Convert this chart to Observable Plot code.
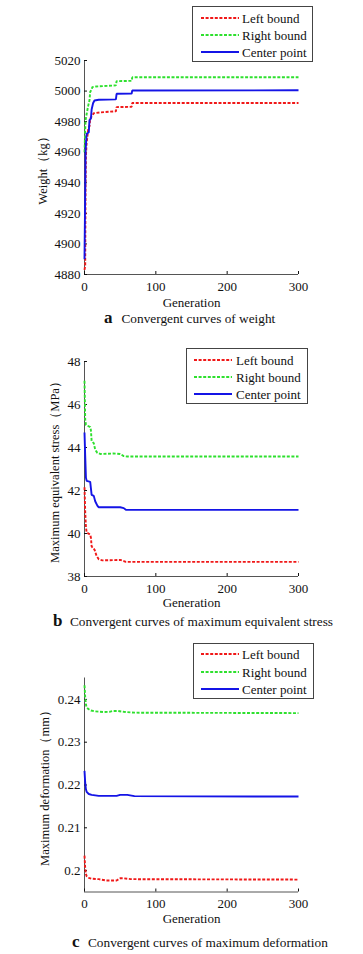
<!DOCTYPE html>
<html>
<head>
<meta charset="utf-8">
<script src="https://cdn.jsdelivr.net/npm/d3@7"></script>
<script src="https://cdn.jsdelivr.net/npm/@observablehq/plot@0.6"></script>
<style>
  body { margin: 0; background: white; }
  #wrap { position: relative; width: 363px; height: 954px; background: white; font-family: "Liberation Serif", "Times New Roman", serif; color: #111; }
  .abs { position: absolute; }
  .cap { position: absolute; font-size: 13.3px; line-height: 18px; white-space: nowrap; }
  .capL { position: absolute; font-size: 17px; font-weight: bold; line-height: 18px; }
</style>
</head>
<body>
<div id="wrap"></div>
<script>
// ---------- data ----------
const seriesNames = ["Left bound", "Right bound", "Center point"];
const xTicks = [0, 100, 200, 300];

// (a) weight
const weightLeftGen  = [0, 1, 1.5, 2, 3, 4, 5.5, 7, 8, 11, 13, 21, 44, 45, 66, 67, 300];
const weightLeft     = [4883, 4886, 4940, 4958, 4966, 4970, 4976, 4977, 4982, 4984, 4985.5, 4986, 4986.8, 4989.5, 4989.7, 4992.2, 4992.2];
const weightRightGen = [0, 1, 1.5, 3, 5, 7, 8, 10, 11, 16, 44, 45, 66, 67, 300];
const weightRight    = [4960, 4975, 4981, 4985, 4990, 4994, 4999.5, 5001, 5002.6, 5003, 5003.7, 5006.5, 5006.7, 5009, 5009];
const weightCenterGen = [0, 1, 1.5, 3, 6, 7, 9, 10, 12, 14, 20, 44, 45, 66, 67, 300];
const weightCenter    = [4890, 4935, 4961, 4972, 4973, 4981, 4982, 4988, 4992, 4993.8, 4994.3, 4994.6, 4998.2, 4998.3, 5000.4, 5000.5];
const weightTicks = [4880, 4900, 4920, 4940, 4960, 4980, 5000, 5020];

// (b) maximum equivalent stress
const stressLeftGen  = [0, 1, 2, 3, 8, 9, 10, 14, 17, 20, 25, 50, 55, 58, 300];
const stressLeft     = [42.15, 41.0, 40.3, 40.05, 39.95, 39.8, 39.4, 39.25, 38.95, 38.8, 38.75, 38.77, 38.72, 38.68, 38.68];
const stressRightGen = [0, 1, 2, 8, 9, 10, 13, 15, 18, 22, 40, 50, 55, 60, 300];
const stressRight    = [47.1, 45.3, 45.05, 44.95, 44.8, 44.3, 44.2, 43.9, 43.75, 43.7, 43.72, 43.7, 43.6, 43.58, 43.58];
const stressCenterGen = [0, 1, 2, 3, 8, 9, 10, 13, 15, 18, 20, 50, 55, 58, 300];
const stressCenter    = [44.7, 43.6, 42.6, 42.45, 42.4, 42.1, 41.8, 41.75, 41.5, 41.3, 41.22, 41.22, 41.18, 41.1, 41.1];
const stressTicks = [38, 40, 42, 44, 46, 48];

// (c) maximum deformation
const deformLeftGen  = [0, 1, 2, 3, 6, 10, 20, 30, 45, 50, 55, 65, 300];
const deformLeft     = [0.2035, 0.2005, 0.1992, 0.1987, 0.1983, 0.1981, 0.1980, 0.1977, 0.1977, 0.1982, 0.1982, 0.1980, 0.1979];
const deformRightGen = [0, 1, 2, 3, 6, 9, 15, 26, 35, 40, 47, 55, 70, 300];
const deformRight    = [0.2433, 0.2405, 0.2388, 0.2381, 0.2377, 0.2374, 0.2372, 0.23705, 0.2371, 0.2373, 0.2373, 0.2371, 0.2369, 0.2368];
const deformCenterGen = [0, 1, 2, 3, 6, 10, 20, 45, 50, 60, 70, 300];
const deformCenter    = [0.2233, 0.2205, 0.2190, 0.2184, 0.2179, 0.2177, 0.21745, 0.21745, 0.2177, 0.2177, 0.2174, 0.2173];
const deformTicks = [0.2, 0.21, 0.22, 0.23, 0.24];

// ---------- styles ----------
const colors = ["#f01818", "#2ee02e", "#1414e6"];
const dashes = ["3,1.6", "3,1.6", null];

const wrap = document.getElementById("wrap");
const pts = (g, v) => g.map((x, i) => ({g: x, v: v[i]}));

function panel(cfg) {
  const marks = [
    Plot.ruleX([0], {stroke: "#555", strokeWidth: 1}),
    Plot.ruleY([cfg.domain[0]], {stroke: "#555", strokeWidth: 1}),
    Plot.axisY({ticks: cfg.ticks, tickFormat: d => String(d), tickSize: -3, tickPadding: 7, label: null, anchor: "left"}),
    Plot.axisX({ticks: xTicks, tickFormat: d => String(d), tickSize: -3, tickPadding: 10, label: null, anchor: "bottom"})
  ];
  cfg.series.forEach((s, i) => {
    marks.push(Plot.line(pts(s[0], s[1]), {
      x: "g", y: "v", stroke: colors[i], strokeWidth: 1.9,
      strokeDasharray: dashes[i], strokeLinecap: "butt", strokeLinejoin: "miter", curve: "linear"
    }));
  });
  marks.push(Plot.text([cfg.ylabel], {text: d => d, frameAnchor: "left", rotate: -90, dx: cfg.ylabelDx, textAnchor: "middle", lineAnchor: "middle", fill: "#111", fontSize: 12.5}));
  marks.push(Plot.text(["Generation"], {text: d => d, frameAnchor: "bottom", dy: cfg.xlabelDy, textAnchor: "middle", lineAnchor: "middle", fill: "#111"}));

  const chart = Plot.plot({
    width: 363, height: cfg.height,
    marginLeft: 84, marginRight: 65, marginTop: cfg.marginTop, marginBottom: cfg.marginBottom,
    x: {domain: [0, 300]},
    y: {domain: cfg.domain},
    style: {fontFamily: "'Liberation Serif', 'Times New Roman', serif", fontSize: "13px", background: "white", color: "#111", overflow: "visible"},
    marks
  });
  chart.style.position = "absolute";
  chart.style.left = "0px";
  chart.style.top = cfg.top + "px";
  wrap.appendChild(chart);
}

function legend(cfg) {
  const svg = d3.select(wrap).append("svg")
    .attr("class", "abs")
    .attr("width", cfg.w).attr("height", cfg.h)
    .style("left", cfg.left + "px").style("top", cfg.top + "px");
  svg.append("rect").attr("x", 0.5).attr("y", 0.5).attr("width", cfg.w - 1).attr("height", cfg.h - 1)
    .attr("fill", "white").attr("stroke", "#444").attr("stroke-width", 1);
  seriesNames.forEach((name, i) => {
    const y = cfg.rows[i];
    svg.append("line").attr("x1", cfg.lx1).attr("x2", cfg.lx2).attr("y1", y).attr("y2", y)
      .attr("stroke", colors[i]).attr("stroke-width", 1.9)
      .attr("stroke-dasharray", dashes[i]);
    svg.append("text").attr("x", cfg.tx).attr("y", y).attr("dy", "0.35em")
      .style("font-family", "'Liberation Serif', 'Times New Roman', serif").style("font-size", "13px")
      .attr("fill", "#111").text(name);
  });
}

function caption(letter, text, lx, tx, cy) {
  const l = document.createElement("div");
  l.className = "capL"; l.style.left = lx + "px"; l.style.top = (cy - 10) + "px"; l.textContent = letter;
  const t = document.createElement("div");
  t.className = "cap"; t.style.left = tx + "px"; t.style.top = (cy - 9) + "px"; t.textContent = text;
  wrap.appendChild(l); wrap.appendChild(t);
}

// panel a
panel({
  top: 0, height: 310, marginTop: 60, marginBottom: 36,
  domain: [4880, 5020], ticks: weightTicks,
  series: [[weightLeftGen, weightLeft], [weightRightGen, weightRight], [weightCenterGen, weightCenter]],
  ylabel: "Weight（kg）", ylabelDx: -42, xlabelDy: 28.7
});
legend({left: 192, top: 6, w: 121, h: 56, rows: [12, 29, 46], lx1: 9, lx2: 47, tx: 50});
caption("a", "Convergent curves of weight", 104, 121.5, 319);

// panel b
panel({
  top: 330, height: 285, marginTop: 31, marginBottom: 39,
  domain: [38, 48], ticks: stressTicks,
  series: [[stressLeftGen, stressLeft], [stressRightGen, stressRight], [stressCenterGen, stressCenter]],
  ylabel: "Maximum equivalent stress（MPa）", ylabelDx: -30, xlabelDy: 26.7
});
legend({left: 186, top: 348, w: 122, h: 56, rows: [12, 29, 46], lx1: 8, lx2: 46, tx: 50});
caption("b", "Convergent curves of maximum equivalent stress", 53, 70, 621.7);

// panel c
panel({
  top: 640, height: 290, marginTop: 37.5, marginBottom: 38.5,
  domain: [0.195, 0.245], ticks: deformTicks,
  series: [[deformLeftGen, deformLeft], [deformRightGen, deformRight], [deformCenterGen, deformCenter]],
  ylabel: "Maximum deformation（mm）", ylabelDx: -40, xlabelDy: 27
});
legend({left: 193, top: 643, w: 121, h: 56, rows: [11, 29, 46], lx1: 8, lx2: 46, tx: 49});
caption("c", "Convergent curves of maximum deformation", 72, 88, 943);
</script>
</body>
</html>
